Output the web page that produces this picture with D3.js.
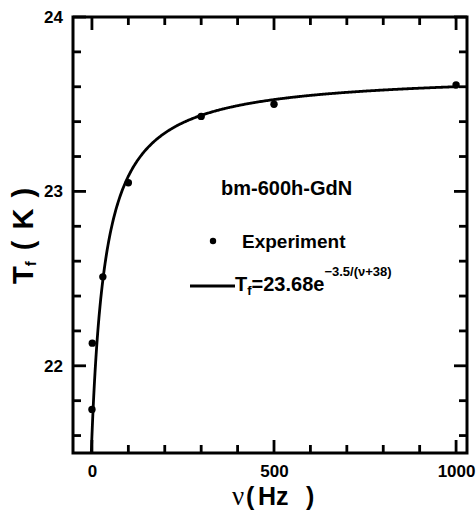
<!DOCTYPE html>
<html>
<head>
<meta charset="utf-8">
<script src="https://cdn.jsdelivr.net/npm/d3@7"></script>
<style>
  html, body { margin: 0; padding: 0; background: #fff; }
  svg { display: block; }
  text { font-family: "Liberation Sans", Arial, Helvetica, sans-serif; font-weight: bold; fill: #000; }
</style>
</head>
<body>
<script>
// Freezing temperature vs. AC frequency for bm-600h-GdN
const freqHz = [0.1, 1, 30, 100, 300, 500, 1000];
const freezeT = [21.75, 22.13, 22.51, 23.05, 23.43, 23.50, 23.61];

// Fit T_f = A * exp(-B / (nu + C))
const fitA = 23.68, fitB = 3.5, fitC = 38;

const xMajorTicks = [0, 500, 1000];
const xMajorLabels = ["0", "500", "1000"];
const xMinorTicks = [100, 200, 300, 400, 600, 700, 800, 900];
const yMajorTicks = [22, 23, 24];
const yMajorLabels = ["22", "23", "24"];
const yMinorTicks = [21.6, 21.8, 22.2, 22.4, 22.6, 22.8, 23.2, 23.4, 23.6, 23.8];

const W = 476, H = 510;
const plotL = 73, plotR = 467, plotT = 17, plotB = 453;

const svg = d3.select("body").append("svg").attr("width", W).attr("height", H);

const x = d3.scaleLinear().domain([-52, 1030]).range([plotL, plotR]);
const y = d3.scaleLinear().domain([21.5, 24]).range([plotB, plotT]);

const major = 13, minor = 8;

// tick labels through d3 axes
function styleAxis(g) {
  g.select(".domain").remove();
  g.selectAll(".tick line").remove();
  g.selectAll(".tick text").attr("fill", "#000").style("font-size", "17px")
    .style("font-family", "'Liberation Sans', Arial, sans-serif").style("font-weight", "bold");
}
svg.append("g").attr("transform", `translate(0,${plotB})`)
  .call(d3.axisBottom(x).tickValues(xMajorTicks).tickSize(0).tickPadding(12)
    .tickFormat((d, i) => xMajorLabels[i]))
  .call(styleAxis);
svg.append("g").attr("transform", `translate(${plotL},0)`)
  .call(d3.axisLeft(y).tickValues(yMajorTicks).tickSize(0).tickPadding(10)
    .tickFormat((d, i) => yMajorLabels[i]))
  .call(styleAxis);

// inward tick marks on all four sides
const ticks = svg.append("g");
const xTickData = xMajorTicks.map(v => [v, major]).concat(xMinorTicks.map(v => [v, minor]));
const yTickData = yMajorTicks.map(v => [v, major]).concat(yMinorTicks.map(v => [v, minor]));
function tickStyle(sel) { return sel.attr("stroke", "#000").attr("stroke-width", 2.8); }
ticks.selectAll(".xb").data(xTickData).join("line").attr("class", "xb")
  .attr("x1", d => x(d[0])).attr("x2", d => x(d[0]))
  .attr("y1", plotB).attr("y2", d => plotB - d[1]).call(tickStyle);
ticks.selectAll(".xt").data(xTickData).join("line").attr("class", "xt")
  .attr("x1", d => x(d[0])).attr("x2", d => x(d[0]))
  .attr("y1", plotT).attr("y2", d => plotT + d[1]).call(tickStyle);
ticks.selectAll(".yl").data(yTickData).join("line").attr("class", "yl")
  .attr("y1", d => y(d[0])).attr("y2", d => y(d[0]))
  .attr("x1", plotL).attr("x2", d => plotL + d[1]).call(tickStyle);
ticks.selectAll(".yr").data(yTickData).join("line").attr("class", "yr")
  .attr("y1", d => y(d[0])).attr("y2", d => y(d[0]))
  .attr("x1", plotR).attr("x2", d => plotR - d[1]).call(tickStyle);

// plot clip
svg.append("clipPath").attr("id", "plot-clip")
  .append("rect").attr("x", plotL).attr("y", plotT).attr("width", plotR - plotL).attr("height", plotB - plotT);

// fitted curve
const fit = nu => fitA * Math.exp(-fitB / (nu + fitC));
const curveNu = d3.range(-3, 20, 0.25).concat(d3.range(20, 1000, 2), [1000]);
svg.append("path")
  .datum(curveNu)
  .attr("clip-path", "url(#plot-clip)")
  .attr("fill", "none").attr("stroke", "#000").attr("stroke-width", 2.8)
  .attr("d", d3.line().x(d => x(d)).y(d => y(fit(d))));

// experimental points
svg.append("g").selectAll("circle")
  .data(freqHz.map((f, i) => [f, freezeT[i]]))
  .join("circle")
  .attr("cx", d => x(d[0])).attr("cy", d => y(d[1])).attr("r", 3.7).attr("fill", "#000");

// frame
svg.append("rect").attr("x", plotL).attr("y", plotT).attr("width", plotR - plotL).attr("height", plotB - plotT)
  .attr("fill", "none").attr("stroke", "#000").attr("stroke-width", 3);

// annotation and legend
svg.append("text").attr("x", 221).attr("y", 195).style("font-size", "20px").text("bm-600h-GdN");
svg.append("circle").attr("cx", 213).attr("cy", 241).attr("r", 3.2).attr("fill", "#000");
svg.append("text").attr("x", 242).attr("y", 248).style("font-size", "19px").text("Experiment");
svg.append("line").attr("x1", 190).attr("x2", 235).attr("y1", 286).attr("y2", 286)
  .attr("stroke", "#000").attr("stroke-width", 2.8);
const fitLabel = svg.append("text").attr("x", 235).attr("y", 291).style("font-size", "20px");
fitLabel.append("tspan").text("T");
fitLabel.append("tspan").attr("dy", 4).style("font-size", "13px").text("f");
fitLabel.append("tspan").attr("dy", -4).text("=23.68e");
fitLabel.append("tspan").attr("dy", -15).style("font-size", "13px").text("−3.5/(ν+38)");

// axis titles
const xTitle = svg.append("text").attr("y", 505).style("font-size", "25px");
xTitle.append("tspan").attr("x", 232).style("font-family", "'Liberation Serif', 'Times New Roman', serif")
  .style("font-weight", "normal").style("font-size", "27px").text("ν");
xTitle.append("tspan").attr("x", 246).text("(");
xTitle.append("tspan").attr("x", 258).text("Hz");
xTitle.append("tspan").attr("x", 306).text(")");

const yTitle = svg.append("text")
  .attr("transform", "translate(33,236) rotate(-90)")
  .attr("text-anchor", "middle").style("font-size", "29px").style("word-spacing", "3px");
yTitle.append("tspan").text("T");
yTitle.append("tspan").attr("dy", 3).style("font-size", "15px").text("f");
yTitle.append("tspan").attr("dy", -3).text(" ( K )");
</script>
</body>
</html>
